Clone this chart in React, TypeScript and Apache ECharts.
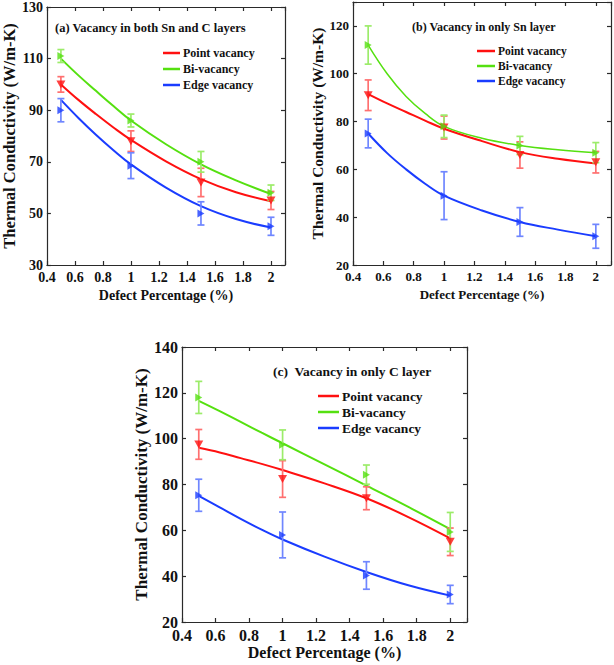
import React, { useEffect, useRef } from "react";
import * as echarts from "echarts";

// ---- data ----
const xVals = [0.5, 1, 1.5, 2];
const fitX = [0.5, 0.625, 0.75, 0.875, 1, 1.25, 1.5, 1.75, 2];
const seriesNames = ["Point vacancy", "Bi-vacancy", "Edge vacancy"];

// (a) Vacancy in both Sn and C layers
const aPoint = [100, 78, 62, 55];
const aPointErr = [3, 4, 5.5, 3.5];
const aBi = [111, 86, 70, 58];
const aBiErr = [2.5, 2.5, 4, 3];
const aEdge = [90, 68.5, 50, 45];
const aEdgeErr = [4.5, 5, 4.5, 3.5];
const aPointFit = [100, 94, 88.5, 83.3, 78.5, 70.2, 63.3, 58.2, 54.7];
const aBiFit = [110, 103.5, 97.5, 91.6, 86, 76.8, 69, 62.8, 57.5];
const aEdgeFit = [94, 87, 80.5, 74.5, 69, 60, 52.8, 47.8, 44.5];

// (b) Vacancy in only Sn layer
const bPoint = [91, 77.5, 66, 63];
const bPointErr = [6.4, 4.8, 5.5, 4.5];
const bBi = [112, 78, 70, 67];
const bBiErr = [8, 4.7, 3.8, 4.2];
const bEdge = [75, 49, 38, 32];
const bEdgeErr = [6, 10, 6, 5];
const bPointFit = [91.5, 87.6, 84, 80.4, 77, 71.8, 67.2, 64.4, 62.5];
const bBiFit = [112, 100, 90.5, 83.4, 78, 73, 70, 68.2, 67];
const bEdgeFit = [75, 66.8, 60, 54, 49, 42.8, 38, 34.8, 32];

// (c) Vacancy in only C layer
const cPoint = [97.5, 82.4, 74, 55];
const cPointErr = [6.5, 8, 5, 6];
const cBi = [118, 97.3, 84.3, 59.3];
const cBiErr = [7, 6.5, 4.2, 8.5];
const cEdge = [75.3, 58, 40.3, 32];
const cEdgeErr = [7, 10, 6, 4];
const cPointFit = [96, 94, 91.5, 89, 86.3, 80.5, 74, 65.8, 56.5];
const cBiFit = [116.5, 112, 107.3, 102.6, 98, 88.8, 79.5, 70.2, 60.5];
const cEdgeFit = [75, 70, 65, 60.3, 56, 48.5, 41.8, 36, 31.5];

const titles = [
  "(a) Vacancy in both Sn and C layers",
  "(b) Vacancy in only Sn layer",
  "(c)  Vacancy in only C layer",
];
const xTitle = "Defect Percentage (%)";
const yTitle = "Thermal Conductivity (W/m-K)";

// ---- styles ----
const FONT = "Liberation Serif";
const lineColors = ["#ff1010", "#55e010", "#1a3cff"];
const errColors = ["#ff7070", "#9cec6a", "#6f86ff"];

const panels = [
  {
    pts: [aPoint, aBi, aEdge],
    errs: [aPointErr, aBiErr, aEdgeErr],
    fits: [aPointFit, aBiFit, aEdgeFit],
    grid: { left: 37, top: 6, width: 248, height: 259 },
    yMin: 30, yMax: 130,
    tickFont: 14, xNameFont: 14, yNameFont: 16.5, yGap: 12, xGap: 23,
    title: { left: 55, top: 21, size: 12.5 },
    legend: { left: 163, top: 47, size: 12, w: 17, gap: 4 },
    fitWidths: [2, 2, 2],
  },
  {
    pts: [bPoint, bBi, bEdge],
    errs: [bPointErr, bBiErr, bEdgeErr],
    fits: [bPointFit, bBiFit, bEdgeFit],
    grid: { left: 353, top: 2, width: 259, height: 263 },
    yMin: 20, yMax: 130,
    tickFont: 13, xNameFont: 13, yNameFont: 15.5, yGap: 17, xGap: 23,
    title: { left: 412, top: 21, size: 12 },
    legend: { left: 477, top: 45, size: 11.5, w: 18, gap: 3 },
    fitWidths: [2, 1.5, 2],
  },
  {
    pts: [cPoint, cBi, cEdge],
    errs: [cPointErr, cBiErr, cEdgeErr],
    fits: [cPointFit, cBiFit, cEdgeFit],
    grid: { left: 182, top: 347, width: 285, height: 275 },
    yMin: 20, yMax: 140,
    tickFont: 16, xNameFont: 16, yNameFont: 17, yGap: 24, xGap: 22,
    title: { left: 273, top: 364, size: 13.5 },
    legend: { left: 318, top: 389, size: 13.5, w: 21, gap: 2 },
    fitWidths: [2, 2, 2],
  },
];

function buildOption() {
  const grid: any[] = [];
  const xAxis: any[] = [];
  const yAxis: any[] = [];
  const series: any[] = [];
  const legend: any[] = [];
  const title: any[] = [];
  const axisLine = { show: true, lineStyle: { color: "#2a2a2a", width: 1.2 } };
  const axisTick = { show: true, inside: true, length: 4, lineStyle: { color: "#2a2a2a", width: 1.2 } };

  panels.forEach((p, pi) => {
    grid.push({ ...p.grid, containLabel: false });
    const xBase = {
      gridIndex: pi, type: "value", min: 0.4, max: 2.1, interval: 0.2,
      splitLine: { show: false }, axisLine, axisTick,
    };
    const yBase = {
      gridIndex: pi, type: "value", min: p.yMin, max: p.yMax, interval: 20,
      splitLine: { show: false }, axisLine, axisTick,
    };
    xAxis.push({
      ...xBase, position: "bottom",
      name: xTitle, nameLocation: "middle", nameGap: p.xGap,
      nameTextStyle: { fontFamily: FONT, fontWeight: "bold", fontSize: p.xNameFont, color: "#111" },
      axisLabel: {
        fontFamily: FONT, fontWeight: "bold", fontSize: p.tickFont, color: "#111", margin: 5,
        formatter: (v: number) => (v > 2.05 ? "" : String(Math.round(v * 10) / 10)),
      },
    });
    xAxis.push({ ...xBase, position: "top", axisLabel: { show: false } });
    yAxis.push({
      ...yBase, position: "left",
      name: yTitle, nameLocation: "middle", nameGap: p.yGap, nameRotate: 90,
      nameTextStyle: { fontFamily: FONT, fontWeight: "bold", fontSize: p.yNameFont, color: "#111" },
      axisLabel: {
        fontFamily: FONT, fontWeight: "bold", fontSize: p.tickFont, color: "#111", margin: 4,
        formatter: (v: number) => ((Math.round(v) - p.yMin) % 20 !== 0 ? "" : String(Math.round(v))),
      },
    });
    yAxis.push({ ...yBase, position: "right", axisLabel: { show: false } });

    const xi = pi * 2;
    const yi = pi * 2;

    // fit curves
    p.fits.forEach((f, si) => {
      series.push({
        type: "line",
        name: seriesNames[si],
        xAxisIndex: xi, yAxisIndex: yi,
        data: fitX.map((x, k) => [x, f[k]]),
        smooth: 0.4,
        showSymbol: false, symbol: "none",
        lineStyle: { color: lineColors[si], width: p.fitWidths[si] },
        itemStyle: { color: lineColors[si] },
        z: 2,
      });
    });
    // error bars
    p.pts.forEach((v, si) => {
      const e = p.errs[si];
      series.push({
        type: "custom",
        name: `err-${pi}-${si}`,
        xAxisIndex: xi, yAxisIndex: yi,
        data: xVals.map((x, k) => [x, v[k] - e[k], v[k] + e[k]]),
        encode: { x: 0, y: [1, 2] },
        renderItem: (params: any, api: any) => {
          const x = api.value(0);
          const lo = api.coord([x, api.value(1)]);
          const hi = api.coord([x, api.value(2)]);
          const cw = 3.5;
          const style = { stroke: errColors[si], lineWidth: 1.7 };
          return {
            type: "group",
            children: [
              { type: "line", shape: { x1: lo[0], y1: lo[1], x2: hi[0], y2: hi[1] }, style },
              { type: "line", shape: { x1: lo[0] - cw, y1: lo[1], x2: lo[0] + cw, y2: lo[1] }, style },
              { type: "line", shape: { x1: hi[0] - cw, y1: hi[1], x2: hi[0] + cw, y2: hi[1] }, style },
            ],
          };
        },
        z: 3,
      });
    });
    // markers
    p.pts.forEach((v, si) => {
      series.push({
        type: "scatter",
        name: `pts-${pi}-${si}`,
        xAxisIndex: xi, yAxisIndex: yi,
        data: xVals.map((x, k) => [x, v[k]]),
        symbol: "triangle",
        symbolSize: si === 0 ? [9, 8] : [8, 7],
        symbolRotate: si === 0 ? 180 : -90,
        itemStyle: { color: lineColors[si] },
        z: 4,
      });
    });

    legend.push({
      orient: "vertical",
      left: p.legend.left, top: p.legend.top,
      data: seriesNames,
      icon: "rect",
      itemWidth: p.legend.w, itemHeight: 2.5,
      itemGap: p.legend.gap,
      padding: 0,
      selectedMode: false,
      textStyle: { fontFamily: FONT, fontWeight: "bold", fontSize: p.legend.size, color: "#111", padding: [0, 0, 0, -2] },
    });
    title.push({
      text: titles[pi],
      left: p.title.left, top: p.title.top, padding: 0,
      textStyle: { fontFamily: FONT, fontWeight: "bold", fontSize: p.title.size, color: "#111" },
    });
  });

  return {
    animation: false,
    backgroundColor: "#ffffff",
    textStyle: { fontFamily: FONT },
    title, legend, grid, xAxis, yAxis, series,
  };
}

export default function App() {
  const ref = useRef<HTMLDivElement>(null);
  useEffect(() => {
    document.body.style.margin = "0";
    if (!ref.current) return;
    const chart = echarts.init(ref.current, undefined, { renderer: "svg" });
    chart.setOption(buildOption() as any);
    return () => chart.dispose();
  }, []);
  return <div ref={ref} style={{ width: 614, height: 665 }} />;
}
